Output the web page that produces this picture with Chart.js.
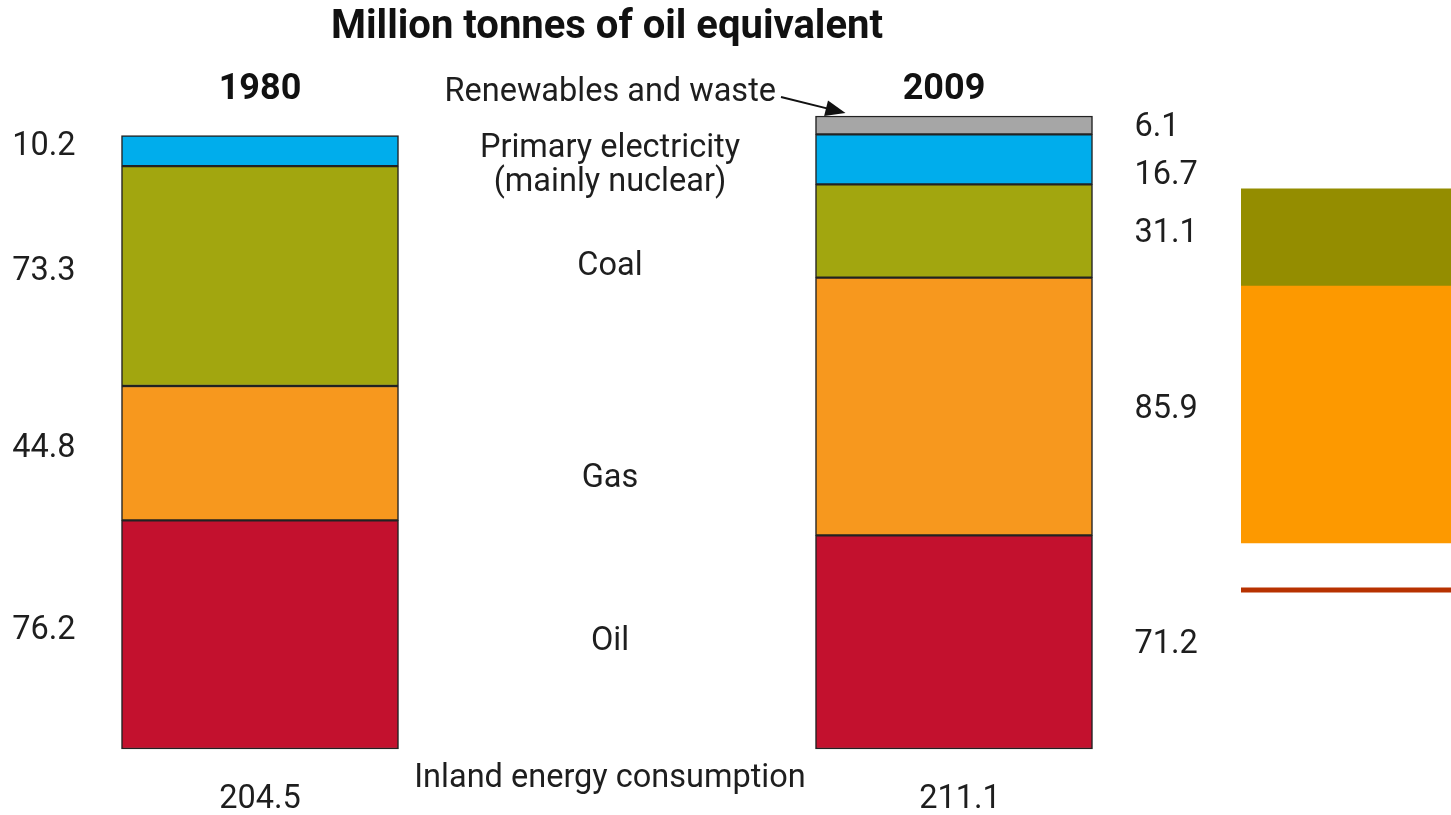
<!DOCTYPE html>
<html>
<head>
<meta charset="utf-8">
<title>Inland energy consumption</title>
<script src="https://cdn.jsdelivr.net/npm/chart.js@4.4.1/dist/chart.umd.min.js"></script>
<style>
    html, body { margin: 0; padding: 0; background: #fff; overflow: hidden; }
    #wrap { position: relative; width: 1451px; height: 815px; overflow: hidden; }
    #chart { position: absolute; left: 0; top: 0; }
    #side { position: absolute; left: 1241px; top: 0; }
</style>
</head>
<body>
<div id="wrap">
    <canvas id="chart" width="1451" height="815"></canvas>
    <canvas id="side" width="220" height="815"></canvas>
</div>
<script>
// Million tonnes of oil equivalent
const years = ['1980', '2009'];
const oil = [76.2, 71.2];
const gas = [44.8, 85.9];
const coal = [73.3, 31.1];
const electricity = [10.2, 16.7];
const renewables = [null, 6.1];
const totals = ['204.5', '211.1'];
const valueLabels = [
    ['76.2', '71.2'],
    ['44.8', '85.9'],
    ['73.3', '31.1'],
    ['10.2', '16.7'],
    [null, '6.1']
];
const sourceNames = ['Oil', 'Gas', 'Coal', ['Primary electricity', '(mainly nuclear)'], 'Renewables and waste'];

// edge of the neighbouring panel (floating ranges on the same scale)
const sideGas = [68.7, 154.3];
const sideCoal = [154.3, 186.7];
const sideRule = [52.3, 53.7];

const Y_MAX = 230;
const PAD_TOP = 59;
const PAD_BOTTOM = 66;
const FONT = 'Roboto, "DejaVu Sans", sans-serif';
const TEXT = '#1e1e1e';

function segmentStyle(color) {
    return {
        backgroundColor: color,
        borderColor: '#222',
        borderWidth: 1.5,
        borderSkipped: false,
        clip: false
    };
}

// small hand offsets for the names in the middle column
const nameNudge = [0, 26, -9, 7];

const labelPlugin = {
    id: 'energyLabels',
    afterDatasetsDraw(chart) {
        const ctx = chart.ctx;
        const metas = chart.data.datasets.map((d, i) => chart.getDatasetMeta(i));
        const bar0 = metas[0].data[0];
        const bar1 = metas[0].data[1];
        const midX = (bar0.x + bar1.x) / 2;
        const half = bar0.width / 2;

        ctx.save();
        ctx.textBaseline = 'middle';

        // title and year headings
        ctx.fillStyle = '#111';
        ctx.textAlign = 'center';
        ctx.font = 'bold 40px ' + FONT;
        ctx.fillText('Million tonnes of oil equivalent', midX, 28);
        ctx.font = 'bold 36px ' + FONT;
        ctx.fillText(years[0], bar0.x, 90);
        ctx.fillText(years[1], bar1.x - 10, 90);

        ctx.fillStyle = TEXT;
        ctx.font = '32.5px ' + FONT;

        // 1980 values on the left
        ctx.textAlign = 'right';
        metas.forEach((meta, i) => {
            const el = meta.data[0];
            if (!valueLabels[i][0] || !el) return;
            ctx.fillText(valueLabels[i][0], el.x - half - 46, (el.y + el.base) / 2 - 4);
        });

        // 2009 values on the right, pushed apart where segments are thin
        ctx.textAlign = 'left';
        let prevY = -Infinity;
        for (let i = metas.length - 1; i >= 0; i--) {
            const el = metas[i].data[1];
            const y = Math.max((el.y + el.base) / 2 + 3, prevY + 48);
            ctx.fillText(valueLabels[i][1], el.x + half + 42, y);
            prevY = y;
        }

        // source names between the bars
        ctx.textAlign = 'center';
        for (let i = 0; i < 4; i++) {
            const a = metas[i].data[0];
            const b = metas[i].data[1];
            const y = Math.max((a.y + a.base) / 2, (b.y + b.base) / 2) + nameNudge[i];
            const name = sourceNames[i];
            if (Array.isArray(name)) {
                ctx.fillText(name[0], midX + 3, y - 17);
                ctx.fillText(name[1], midX + 3, y + 17);
            } else {
                ctx.fillText(name, midX + 3, y);
            }
        }

        // renewables label with arrow to the thin top segment
        const ren = metas[4].data[1];
        const textRight = midX + 169;
        ctx.textAlign = 'right';
        ctx.fillText(sourceNames[4], textRight, 93);
        const x0 = textRight + 5, y0 = 97;
        const x1 = ren.x - half + 30, y1 = ren.y - 3;
        const ang = Math.atan2(y1 - y0, x1 - x0);
        ctx.strokeStyle = '#111';
        ctx.lineWidth = 2;
        ctx.beginPath();
        ctx.moveTo(x0, y0);
        ctx.lineTo(x1 - 14 * Math.cos(ang), y1 - 14 * Math.sin(ang));
        ctx.stroke();
        ctx.fillStyle = '#111';
        ctx.beginPath();
        ctx.moveTo(x1, y1);
        ctx.lineTo(x1 - 20 * Math.cos(ang) + 8 * Math.sin(ang), y1 - 20 * Math.sin(ang) - 8 * Math.cos(ang));
        ctx.lineTo(x1 - 20 * Math.cos(ang) - 8 * Math.sin(ang), y1 - 20 * Math.sin(ang) + 8 * Math.cos(ang));
        ctx.closePath();
        ctx.fill();

        // totals under the bars
        ctx.fillStyle = TEXT;
        ctx.textAlign = 'center';
        ctx.fillText('Inland energy consumption', midX + 3, 779);
        ctx.fillText(totals[0], bar0.x, 800);
        ctx.fillText(totals[1], bar1.x + 6, 800);

        ctx.restore();
    }
};

new Chart(document.getElementById('chart'), {
    type: 'bar',
    data: {
        labels: years,
        datasets: [
            { label: 'Oil', data: oil, ...segmentStyle('#c3112e') },
            { label: 'Gas', data: gas, ...segmentStyle('#f7981e') },
            { label: 'Coal', data: coal, ...segmentStyle('#a2a60f') },
            { label: 'Primary electricity', data: electricity, ...segmentStyle('#00adec') },
            { label: 'Renewables and waste', data: renewables, ...segmentStyle('#a6a6a6') }
        ]
    },
    options: {
        responsive: false,
        animation: false,
        devicePixelRatio: 1,
        layout: { padding: { left: 260, right: 497, top: PAD_TOP, bottom: PAD_BOTTOM } },
        datasets: { bar: { barThickness: 277 } },
        scales: {
            x: { stacked: true, display: false, offset: false, grid: { offset: false } },
            y: { stacked: true, display: false, min: 0, max: Y_MAX }
        },
        plugins: {
            legend: { display: false },
            tooltip: { enabled: false }
        }
    },
    plugins: [labelPlugin]
});

new Chart(document.getElementById('side'), {
    type: 'bar',
    data: {
        labels: [''],
        datasets: [
            { data: [sideRule], backgroundColor: '#b73200', grouped: false },
            { data: [sideGas], backgroundColor: '#fd9900', grouped: false },
            { data: [sideCoal], backgroundColor: '#948d00', grouped: false }
        ]
    },
    options: {
        responsive: false,
        animation: false,
        devicePixelRatio: 1,
        layout: { padding: { left: 0, right: 0, top: PAD_TOP, bottom: PAD_BOTTOM } },
        datasets: { bar: { barPercentage: 1, categoryPercentage: 1 } },
        scales: {
            x: { display: false },
            y: { display: false, min: 0, max: Y_MAX }
        },
        plugins: {
            legend: { display: false },
            tooltip: { enabled: false }
        }
    }
});
</script>
</body>
</html>
